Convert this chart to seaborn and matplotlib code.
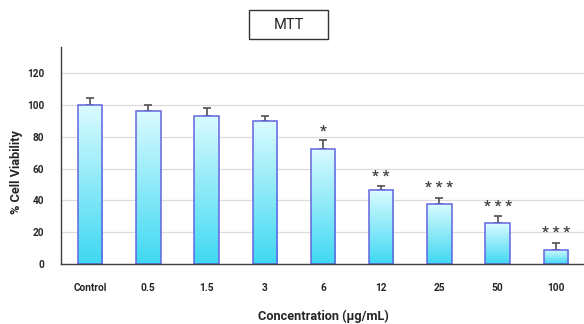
import matplotlib.pyplot as plt
import matplotlib.colors as mcolors
from matplotlib.patches import Rectangle
import pandas as pd
import seaborn as sns
import numpy as np

sns.set_style("white")
plt.rcParams["font.family"] = ["Roboto", "DejaVu Sans"]

categories = ["Control", "0.5", "1.5", "3", "6", "12", "25", "50", "100"]
viability = [100.0, 96.2, 93.4, 89.8, 72.5, 46.5, 38.0, 25.7, 9.0]
sd = [4.6, 4.0, 5.0, 3.4, 5.3, 2.7, 3.8, 4.7, 4.5]
stars = ["", "", "", "", "*", "* *", "* * *", "* * *", "* * *"]

df = pd.DataFrame({"Concentration": categories, "Viability": viability})

fig = plt.figure(figsize=(5.84, 3.24), dpi=100)
ax = fig.add_axes([61 / 584, 60 / 324, 524 / 584, 217 / 324])

sns.barplot(data=df, x="Concentration", y="Viability", order=categories,
            width=0.42, color="#8ee6f5", edgecolor="#6464e0", linewidth=1.1,
            errorbar=None, ax=ax, zorder=2)

ax.set_xlim(-0.5, 8.5)
ax.set_ylim(0, 136.5)

# gradient fill inside each bar
cmap = mcolors.LinearSegmentedColormap.from_list("cyan_grad", ["#3fd8f2", "#dafbff"])
grad = np.linspace(0, 1, 256).reshape(-1, 1)
for bar in ax.patches:
    x0, y0 = bar.get_x(), bar.get_y()
    w, h = bar.get_width(), bar.get_height()
    bar.set_facecolor("none")
    im = ax.imshow(grad, cmap=cmap, origin="lower", aspect="auto",
                   extent=[x0, x0 + w, y0, y0 + h], zorder=1.9)
    im.set_clip_path(bar)
ax.set_xlim(-0.5, 8.5)
ax.set_ylim(0, 136.5)

# upper error bars only (lower cap hidden under the bar fill)
xpos = np.arange(len(categories))
ax.errorbar(xpos, viability, yerr=[np.zeros(len(sd)), sd], fmt="none",
            ecolor="#505050", elinewidth=1.2, capsize=3.2, capthick=1.2, zorder=1.85)

# significance stars
for x, v, e, s in zip(xpos, viability, sd, stars):
    if s:
        ax.annotate(s, (x, v + e), xytext=(0, 1.5), textcoords="offset points",
                    ha="center", va="bottom", fontsize=11, color="#404040",
                    fontweight="bold")

ax.set_yticks(range(0, 121, 20))
ax.grid(axis="y", color="#dcdcdc", linewidth=0.9, zorder=0)
ax.set_axisbelow(True)
ax.tick_params(axis="y", length=0, pad=12, labelsize=7.2)
ax.tick_params(axis="x", which="major", length=0, pad=14, labelsize=7.3)
ax.set_xticks(np.arange(0.5, 8.5, 1), minor=True)
ax.tick_params(axis="x", which="minor", length=4, width=1, color="#404040",
               direction="out")
for lab in ax.get_xticklabels() + ax.get_yticklabels():
    lab.set_fontweight("bold")

sns.despine(ax=ax, top=True, right=True)
for side in ["left", "bottom"]:
    ax.spines[side].set_color("#404040")
    ax.spines[side].set_linewidth(1)

ax.set_xlabel("Concentration (µg/mL)", fontsize=9.2, fontweight="bold")
ax.xaxis.label.set_va("center")
ax.xaxis.set_label_coords(0.5, -0.24)
ax.set_ylabel("% Cell Viability", fontsize=9.2, fontweight="bold")
ax.yaxis.label.set_va("center")
ax.yaxis.set_label_coords(-0.084, 0.424)

# boxed title
fig.patches.append(Rectangle((249 / 584, 1 - 39 / 324), 79 / 584, 29 / 324,
                             transform=fig.transFigure, fill=False,
                             edgecolor="#333333", linewidth=1))
fig.text(289 / 584, 1 - 25 / 324, "MTT", ha="center", va="center", fontsize=10.5)

fig.savefig("out.png", dpi=100)
plt.close(fig)
